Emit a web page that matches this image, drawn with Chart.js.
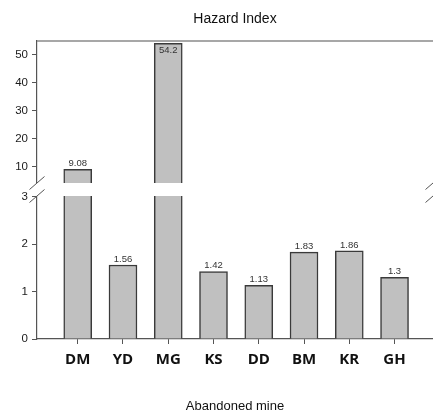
<!DOCTYPE html>
<html>
<head>
<meta charset="utf-8">
<title>Hazard Index</title>
<script src="https://cdn.jsdelivr.net/npm/chart.js@4"></script>
<style>
  html, body { margin: 0; padding: 0; background: #fff; }
  #wrap { width: 433px; height: 414px; }
</style>
</head>
<body>
<div id="wrap"><canvas id="hiChart" width="433" height="414"></canvas></div>
<script>
// data
var mines = ['DM', 'YD', 'MG', 'KS', 'DD', 'BM', 'KR', 'GH'];
var hazardIndex = [9.08, 1.56, 54.2, 1.42, 1.13, 1.83, 1.86, 1.3];
var hazardText = ['9.08', '1.56', '54.2', '1.42', '1.13', '1.83', '1.86', '1.3'];
var upperTicks = [10, 20, 30, 40, 50];
var lowerTicks = [0, 1, 2, 3];

// broken axis ranges
var upperMin = 1.65, upperMax = 55;
var lowerMin = 0, lowerMax = 3.14;

var fontFam = "'Liberation Sans', Arial, sans-serif";

// bars above the break go to the upper axis, everything is cut at the lower top
function upperData() {
    return hazardIndex.map(function (v, i) {
        return { x: i, y: v > lowerMax ? v : null };
    });
}
function lowerData() {
    return hazardIndex.map(function (v, i) {
        return { x: i, y: Math.min(v, lowerMax) };
    });
}

// white gap, break marks, top border and value labels
var breakPlugin = {
    id: 'breakPlugin',
    afterDatasetsDraw: function (chart) {
        var ctx = chart.ctx;
        var area = chart.chartArea;
        var split = chart.scales.yUp.bottom;
        var gTop = split - 7, gBot = split + 6;

        ctx.save();
        // top frame line
        ctx.strokeStyle = '#8a8a8a';
        ctx.lineWidth = 1.5;
        ctx.beginPath();
        ctx.moveTo(area.left, area.top);
        ctx.lineTo(area.right, area.top);
        ctx.stroke();

        // white band across bars and axis
        ctx.fillStyle = '#fff';
        ctx.fillRect(area.left - 3, gTop, area.right - area.left + 3, gBot - gTop);

        // diagonal marks
        ctx.strokeStyle = '#555';
        ctx.lineWidth = 1;
        [area.left, area.right].forEach(function (x) {
            [gTop, gBot].forEach(function (y) {
                ctx.beginPath();
                ctx.moveTo(x - 7.5, y + 6.5);
                ctx.lineTo(x + 7.5, y - 6.5);
                ctx.stroke();
            });
        });

        // value labels
        var up = chart.getDatasetMeta(0).data;
        var low = chart.getDatasetMeta(1).data;
        ctx.fillStyle = '#333';
        ctx.font = '9.5px ' + fontFam;
        ctx.textAlign = 'center';
        hazardText.forEach(function (t, i) {
            var el = hazardIndex[i] > lowerMax ? up[i] : low[i];
            if (el.y - 12 < area.top) {
                ctx.textBaseline = 'top';
                ctx.fillText(t, el.x, el.y + 2);
            } else {
                ctx.textBaseline = 'bottom';
                ctx.fillText(t, el.x, el.y - 1);
            }
        });
        ctx.restore();
    }
};

var barStyle = {
    backgroundColor: '#c0c0c0',
    borderColor: '#3a3a3a',
    borderWidth: 1.5,
    borderSkipped: 'start',
    barThickness: 28,
    grouped: false
};

function yAxis(min, max, tickList, beginZero) {
    return {
        type: 'linear',
        position: 'left',
        stack: 'hi',
        stackWeight: 1,
        min: min,
        max: max,
        beginAtZero: beginZero,
        afterBuildTicks: function (scale) {
            scale.ticks = tickList.map(function (v) { return { value: v }; });
        },
        afterFit: function (scale) { scale.width = 37; },
        grid: { drawOnChartArea: false, tickLength: 5, color: '#555' },
        border: { color: '#555', width: 1.2 },
        ticks: {
            color: '#1a1a1a',
            padding: 4,
            font: { family: fontFam, size: 11.5 }
        }
    };
}

var ctx = document.getElementById('hiChart').getContext('2d');
var hiChart = new Chart(ctx, {
    type: 'bar',
    data: {
        datasets: [
            Object.assign({ label: 'upper', data: upperData(), yAxisID: 'yUp' }, barStyle),
            Object.assign({ label: 'lower', data: lowerData(), yAxisID: 'yLow' }, barStyle)
        ]
    },
    options: {
        responsive: false,
        devicePixelRatio: 1,
        animation: false,
        layout: { padding: { left: 0, right: 0, top: 0, bottom: 0 } },
        plugins: {
            legend: { display: false },
            tooltip: { enabled: false },
            title: {
                display: true,
                text: 'Hazard Index',
                fullSize: false,
                color: '#111',
                font: { family: fontFam, size: 14, weight: 'normal' },
                padding: { top: 11, bottom: 13.2 }
            }
        },
        scales: {
            x: {
                type: 'linear',
                offset: false,
                min: -0.9,
                max: 7.85,
                afterBuildTicks: function (scale) {
                    scale.ticks = mines.map(function (m, i) { return { value: i }; });
                },
                afterFit: function (scale) { scale.height = 75; },
                grid: { drawOnChartArea: false, offset: false, tickLength: 5, color: '#555' },
                border: { color: '#555', width: 1.2 },
                ticks: {
                    color: '#111',
                    padding: 7,
                    font: { family: "'Open Sans', sans-serif", size: 15, weight: 'bold' },
                    callback: function (v) { return mines[v]; }
                },
                title: {
                    display: true,
                    text: 'Abandoned mine',
                    color: '#111',
                    font: { family: fontFam, size: 13 },
                    padding: { top: 0, bottom: 0 }
                }
            },
            // stacked axes: the one listed first is drawn at the bottom
            yLow: yAxis(lowerMin, lowerMax, lowerTicks, true),
            yUp: yAxis(upperMin, upperMax, upperTicks, false)
        }
    },
    plugins: [breakPlugin]
});
</script>
</body>
</html>
